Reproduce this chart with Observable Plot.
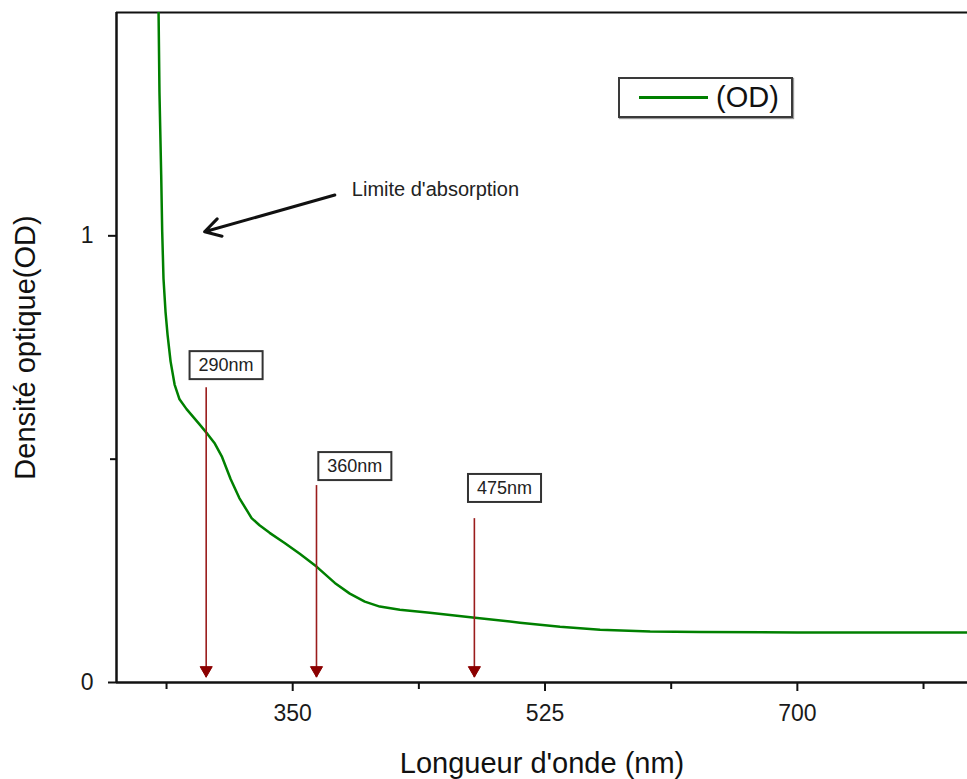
<!DOCTYPE html>
<html>
<head>
<meta charset="utf-8">
<script src="https://cdn.jsdelivr.net/npm/d3@7"></script>
<script src="https://cdn.jsdelivr.net/npm/@observablehq/plot@0.6"></script>
<style>
  html, body { margin: 0; padding: 0; background: #fff; }
  #wrap { position: relative; width: 967px; height: 779px; font-family: "Liberation Sans", Arial, sans-serif; }
  #legend { position: absolute; left: 618px; top: 77px; width: 171px; height: 37px; border: 2px solid #3a3a3a; background: #fff; box-shadow: 1px 1px 1px #999; display: flex; align-items: center; }
  #legend .sw { display: inline-block; width: 69px; height: 3px; background: #008000; margin-left: 19px; margin-right: 8px; }
  #legend .lb { font-size: 29px; color: #111; line-height: 1; }
</style>
</head>
<body>
<div id="wrap">
  <div id="chart"></div>
  <div id="legend"><span class="sw"></span><span class="lb">(OD)</span></div>
</div>
<script>
const wavelength = [256.8, 257.6, 258.8, 259.5, 260.4, 261.8, 263.2, 265.3, 268.1, 271.5, 276.4, 285.4, 291.0, 296.0, 301.0, 307.0, 313.0, 321.5, 327.0, 334.0, 344.4, 354.9, 366.7, 379.2, 389.6, 400.0, 410.4, 424.3, 445.1, 476.4, 507.6, 535.4, 563.2, 597.9, 632.6, 700, 760, 818];
const od = [1.55, 1.321, 1.136, 1.009, 0.904, 0.830, 0.779, 0.719, 0.667, 0.634, 0.612, 0.578, 0.556, 0.535, 0.505, 0.455, 0.413, 0.368, 0.352, 0.335, 0.3125, 0.288, 0.259, 0.223, 0.199, 0.181, 0.170, 0.163, 0.156, 0.145, 0.134, 0.125, 0.118, 0.114, 0.113, 0.112, 0.112, 0.112];

// Marked wavelengths (vertical arrows) and their labels
const markX = [290, 366.5, 476];
const markTop = [0.661, 0.442, 0.368];
const markBottom = [0.012, 0.012, 0.012];
const markLabels = ["290nm", "360nm", "475nm"];
const labelX = [303.8, 393.1, 496.9];
const labelY = [0.710, 0.484, 0.435];

// "Limite d'absorption" annotation
const annText = ["Limite d'absorption"];
const annTextX = [391];
const annTextY = [1.103];
const annArrowFrom = [[379.2, 1.0915]];
const annArrowTo = [[288.9, 1.009]];

// Axes
const xDomain = [227.8, 818];
const yDomain = [0, 1.5];
const xMajorTicks = [350, 525, 700];
const xMinorTicks = [262.5, 437.5, 612.5, 787.5];
const yMajorTicks = [0, 1];
const yMinorTicks = [0.5];
const xLabel = "Longueur d'onde (nm)";
const yLabel = "Densité optique(OD)";

const spectrum = wavelength.map((w, i) => ({w, v: od[i]}));
const marks = markX.map((x, i) => ({x, top: markTop[i], bottom: markBottom[i], label: markLabels[i], lx: labelX[i], ly: labelY[i]}));
const ann = annArrowFrom.map((f, i) => ({x1: f[0], y1: f[1], x2: annArrowTo[i][0], y2: annArrowTo[i][1]}));

const arrowRed = "#9a1c1c";

const plot = Plot.plot({
  width: 967,
  height: 779,
  marginLeft: 116,
  marginRight: 0,
  marginTop: 12,
  marginBottom: 97,
  style: {fontFamily: "'Liberation Sans', Arial, sans-serif", background: "#fff", overflow: "visible"},
  x: {domain: xDomain},
  y: {domain: yDomain},
  marks: [
    // frame lines
    Plot.ruleY([yDomain[0]], {stroke: "#111", strokeWidth: 2.5}),
    Plot.ruleY([yDomain[1]], {stroke: "#111", strokeWidth: 2}),
    Plot.ruleX([xDomain[0]], {stroke: "#111", strokeWidth: 2.5}),
    // axes
    Plot.axisX({ticks: xMajorTicks, tickSize: 9, tickPadding: 13, fontSize: 23, strokeWidth: 2, stroke: "#111", fill: "#1a1a1a", tickFormat: d => String(d), label: null}),
    Plot.axisX({ticks: xMinorTicks, tickSize: 7, strokeWidth: 2, stroke: "#111", text: null, label: null}),
    Plot.axisY({ticks: yMajorTicks, tickSize: 8, tickPadding: 15, fontSize: 23, strokeWidth: 2, stroke: "#111", fill: "#1a1a1a", tickFormat: d => String(d), label: null}),
    Plot.axisY({ticks: yMinorTicks, tickSize: 6, strokeWidth: 2, stroke: "#111", text: null, label: null}),
    // axis titles
    Plot.text([xLabel], {frameAnchor: "bottom", dy: 81, fontSize: 29, fill: "#111", lineAnchor: "middle", textAnchor: "middle"}),
    Plot.text([yLabel], {frameAnchor: "left", dx: -91, rotate: -90, fontSize: 29, fill: "#111", lineAnchor: "middle", textAnchor: "middle"}),
    // spectrum
    Plot.line(spectrum, {x: "w", y: "v", stroke: "#008000", strokeWidth: 2.5, clip: true}),
    // marked wavelength arrows
    Plot.link(marks, {x1: "x", x2: "x", y1: "top", y2: "bottom", stroke: arrowRed, strokeWidth: 1.6}),
    Plot.dot(marks, {x: "x", y: "bottom", symbol: "triangle", rotate: 180, r: 4.5, dy: -7, fill: "#8b0000", stroke: "#8b0000", strokeWidth: 1}),
    Plot.text(marks, {x: "lx", y: "ly", text: "label", fontSize: 18, fill: "#222"}),
    // annotation
    Plot.arrow(ann, {x1: "x1", y1: "y1", x2: "x2", y2: "y2", stroke: "#111", strokeWidth: 3, headLength: 9}),
    Plot.text(annText, {x: annTextX, y: annTextY, text: d => d, fontSize: 20, fill: "#222", textAnchor: "start"})
  ]
});

document.getElementById("chart").appendChild(plot);

// draw boxes around wavelength labels
d3.select(plot).selectAll("text").filter(function() {
  return markLabels.includes(this.textContent);
}).each(function() {
  const bb = this.getBBox();
  const padX = 9, padY = 4;
  const r = document.createElementNS("http://www.w3.org/2000/svg", "rect");
  r.setAttribute("x", bb.x - padX);
  r.setAttribute("y", bb.y - padY);
  r.setAttribute("width", bb.width + 2 * padX);
  r.setAttribute("height", bb.height + 2 * padY);
  r.setAttribute("fill", "#fff");
  r.setAttribute("stroke", "#333");
  r.setAttribute("stroke-width", "2");
  const t = this.getAttribute("transform");
  if (t) r.setAttribute("transform", t);
  this.parentNode.insertBefore(r, this);
});
</script>
</body>
</html>
